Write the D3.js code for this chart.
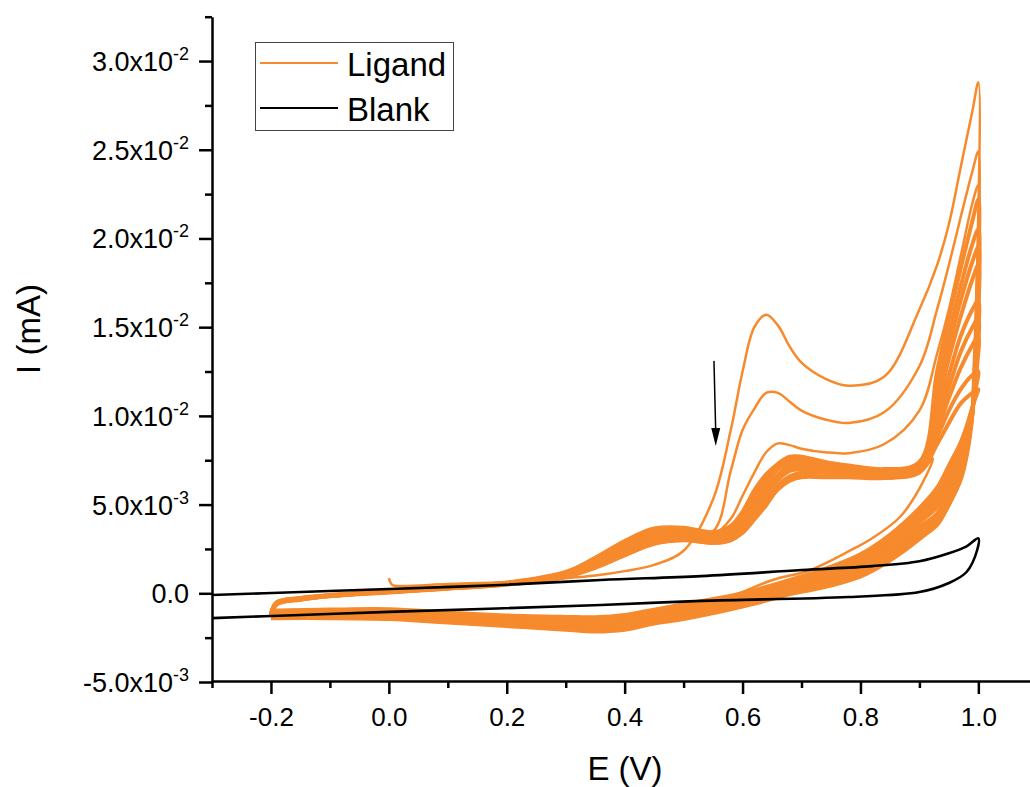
<!DOCTYPE html>
<html>
<head>
<meta charset="utf-8">
<script src="https://cdn.jsdelivr.net/npm/d3@7"></script>
<style>
  body { margin: 0; background: #fff; }
  text { font-family: "Liberation Sans", Arial, sans-serif; }
</style>
</head>
<body>
<script>
// currents are written in units of 10^-3 mA, potentials in V

// shared potential grids for forward (anodic) and reverse (cathodic) sweeps
const potentialFwd = [-0.2, -0.19, -0.15, -0.1, 0.0, 0.1, 0.2, 0.3, 0.35, 0.4, 0.45, 0.5, 0.55, 0.58, 0.6, 0.62, 0.64, 0.66, 0.68, 0.7, 0.74, 0.78, 0.84, 0.9, 0.93, 0.95, 0.97, 0.99, 1.0];
const potentialRev = [1.0, 0.997, 0.993, 0.99, 0.98, 0.97, 0.95, 0.93, 0.9, 0.85, 0.8, 0.75, 0.7, 0.6, 0.5, 0.45, 0.4, 0.35, 0.3, 0.2, 0.1, 0.0, -0.1, -0.2];

// first scan starts at open circuit (0 V)
const firstScanE = [0.0, 0.006, 0.02, 0.1, 0.2, 0.3, 0.35, 0.4, 0.45, 0.5, 0.55, 0.58, 0.6, 0.62, 0.64, 0.66, 0.68, 0.7, 0.74, 0.78, 0.84, 0.9, 0.93, 0.95, 0.97, 0.99, 1.0];
const firstScanI = [0.86, 0.47, 0.41, 0.52, 0.64, 0.85, 1.0, 1.25, 1.6, 2.4, 5.3, 9.2, 12.5, 15.0, 15.7, 15.1, 13.9, 13.0, 12.1, 11.7, 12.2, 16.0, 18.5, 20.8, 24.0, 27.2, 28.8];
const cycle1Rev = [28.8, 17, 12.5, 10.2, 7.8, 6.4, 4.9, 3.9, 3.0, 1.8, 0.9, 0.4, 0.05, -0.45, -1.05, -1.45, -1.85, -2.0, -1.9, -1.6, -1.35, -1.2, -1.15, -1.2];

const cycle2Fwd = [-1.2, -0.55, -0.3, -0.15, 0.1, 0.3, 0.55, 1.1, 1.8, 2.6, 3.2, 3.3, 3.5, 6.9, 9.2, 10.4, 11.3, 11.3, 10.8, 10.3, 9.8, 9.6, 10.2, 12.8, 16.0, 18.5, 21.2, 23.8, 24.9];
const cycle2Rev = [24.9, 16.5, 12.3, 10.3, 8.0, 6.6, 5.1, 4.1, 3.2, 2.0, 1.1, 0.55, 0.15, -0.4, -1.0, -1.4, -1.8, -1.95, -1.85, -1.55, -1.3, -1.18, -1.12, -1.18];

const cycle3Fwd = [-1.18, -0.52, -0.28, -0.13, 0.12, 0.32, 0.57, 1.15, 1.85, 2.65, 3.25, 3.35, 3.3, 4.2, 5.5, 6.8, 7.95, 8.45, 8.35, 8.15, 7.95, 7.9, 8.4, 10.3, 13.5, 16.0, 19.0, 22.0, 23.0];
const cycle3Rev = [23.0, 16, 12.0, 10.2, 8.1, 6.8, 5.3, 4.3, 3.4, 2.2, 1.3, 0.7, 0.25, -0.35, -0.95, -1.35, -1.75, -1.9, -1.8, -1.5, -1.28, -1.15, -1.1, -1.15];

// later cycles that pile up into the dense band
const bandFwd1 = [-1.15, -0.5, -0.26, -0.1, 0.14, 0.35, 0.6, 1.2, 2.0, 2.95, 3.65, 3.7, 3.45, 3.8, 4.6, 5.8, 6.7, 7.3, 7.7, 7.7, 7.4, 7.2, 7.0, 7.4, 12.5, 15.5, 18.3, 21.0, 22.2];
const bandFwd2 = [-1.18, -0.52, -0.28, -0.12, 0.12, 0.33, 0.58, 1.15, 1.9, 2.8, 3.5, 3.55, 3.35, 3.65, 4.4, 5.6, 6.5, 7.2, 7.6, 7.6, 7.3, 7.1, 6.95, 7.3, 11.6, 14.6, 17.3, 19.7, 20.5];
const bandFwd3 = [-1.2, -0.54, -0.3, -0.13, 0.1, 0.31, 0.56, 1.1, 1.8, 2.65, 3.35, 3.4, 3.25, 3.5, 4.2, 5.3, 6.2, 7.0, 7.4, 7.5, 7.2, 7.0, 6.9, 7.2, 10.5, 13.2, 15.6, 17.7, 18.5];
const bandFwd4 = [-1.22, -0.56, -0.31, -0.14, 0.09, 0.3, 0.54, 1.05, 1.7, 2.5, 3.2, 3.3, 3.15, 3.35, 4.0, 5.0, 5.9, 6.7, 7.2, 7.3, 7.1, 6.9, 6.8, 7.1, 10.0, 12.3, 14.5, 16.0, 16.5];
const bandFwd5 = [-1.25, -0.58, -0.33, -0.15, 0.08, 0.28, 0.52, 1.0, 1.6, 2.4, 3.05, 3.2, 3.05, 3.2, 3.8, 4.7, 5.6, 6.4, 6.9, 7.0, 6.9, 6.8, 6.7, 7.0, 9.2, 11.0, 12.7, 14.0, 14.5];
const bandFwd6 = [-1.28, -0.6, -0.35, -0.16, 0.06, 0.27, 0.5, 0.95, 1.5, 2.25, 2.9, 3.1, 2.95, 3.1, 3.6, 4.4, 5.3, 6.1, 6.6, 6.8, 6.8, 6.7, 6.6, 6.9, 8.8, 10.3, 11.5, 12.3, 12.5];
const bandFwd7 = [-1.3, -0.62, -0.36, -0.17, 0.05, 0.26, 0.49, 0.92, 1.45, 2.15, 2.8, 3.0, 2.85, 3.0, 3.45, 4.2, 5.0, 5.9, 6.4, 6.6, 6.6, 6.6, 6.5, 6.8, 8.4, 9.6, 10.7, 11.3, 11.5];
const bandFwd8 = [-1.2, -0.53, -0.29, -0.12, 0.11, 0.32, 0.57, 1.12, 1.85, 2.72, 3.42, 3.48, 3.3, 3.58, 4.3, 5.45, 6.35, 7.1, 7.5, 7.55, 7.25, 7.05, 6.92, 7.25, 11.0, 13.9, 16.5, 18.7, 19.5];
const bandFwd9 = [-1.24, -0.57, -0.32, -0.14, 0.085, 0.29, 0.53, 1.02, 1.65, 2.45, 3.12, 3.25, 3.1, 3.28, 3.9, 4.85, 5.75, 6.55, 7.05, 7.15, 7.0, 6.85, 6.75, 7.05, 9.6, 11.6, 13.6, 15.0, 15.5];

const bandRev1 = [22.2, 16, 12.5, 10.1, 7.7, 6.4, 5.0, 3.85, 3.1, 1.9, 1.0, 0.5, 0.12, -0.75, -1.45, -1.7, -2.05, -2.15, -2.05, -1.85, -1.65, -1.45, -1.4, -1.4];
const bandRev2 = [20.5, 15, 12.0, 10.2, 7.9, 6.6, 5.25, 4.1, 3.35, 2.1, 1.15, 0.65, 0.25, -0.6, -1.3, -1.6, -1.9, -2.0, -1.9, -1.72, -1.5, -1.32, -1.28, -1.3];
const bandRev3 = [18.5, 14, 11.5, 10.2, 8.2, 7.0, 5.65, 4.5, 3.75, 2.45, 1.45, 0.9, 0.48, -0.45, -1.15, -1.45, -1.75, -1.85, -1.78, -1.6, -1.4, -1.22, -1.18, -1.2];
const bandRev4 = [16.5, 13.5, 11.4, 10.3, 8.5, 7.3, 6.0, 4.85, 4.0, 2.65, 1.6, 1.02, 0.58, -0.3, -1.0, -1.3, -1.6, -1.7, -1.65, -1.5, -1.3, -1.12, -1.1, -1.12];
const bandRev5 = [14.5, 12.5, 11.2, 10.4, 8.9, 7.9, 6.6, 5.4, 4.4, 3.0, 1.9, 1.25, 0.78, -0.15, -0.85, -1.15, -1.45, -1.55, -1.52, -1.4, -1.2, -1.02, -1.02, -1.05];
const bandRev6 = [12.5, 11.8, 11.0, 10.5, 9.2, 8.2, 6.9, 5.7, 4.6, 3.15, 2.05, 1.38, 0.86, -0.05, -0.7, -1.0, -1.3, -1.42, -1.4, -1.3, -1.12, -0.95, -0.95, -1.0];
const bandRev7 = [11.5, 11.2, 10.8, 10.5, 9.4, 8.5, 7.2, 5.95, 4.8, 3.3, 2.2, 1.5, 0.95, 0.0, -0.62, -0.92, -1.22, -1.35, -1.33, -1.25, -1.08, -0.9, -0.92, -0.98];
const bandRev8 = [19.5, 14.5, 11.8, 10.2, 8.05, 6.8, 5.45, 4.3, 3.55, 2.3, 1.3, 0.78, 0.38, -0.52, -1.22, -1.52, -1.82, -1.92, -1.84, -1.66, -1.45, -1.27, -1.23, -1.25];
const bandRev9 = [15.5, 13.0, 11.3, 10.35, 8.7, 7.6, 6.3, 5.1, 4.2, 2.85, 1.75, 1.15, 0.68, -0.22, -0.92, -1.22, -1.52, -1.62, -1.58, -1.45, -1.25, -1.07, -1.06, -1.08];

// last scan, switched back at 0.923 V
const lastScanE = [-0.2, -0.19, -0.15, -0.1, 0.0, 0.1, 0.2, 0.3, 0.35, 0.4, 0.45, 0.5, 0.55, 0.58, 0.6, 0.62, 0.64, 0.66, 0.68, 0.7, 0.74, 0.78, 0.84, 0.9, 0.923, 0.9, 0.867, 0.82, 0.782, 0.714, 0.651, 0.573, 0.5, 0.45, 0.4, 0.35, 0.3, 0.2, 0.1, 0.0, -0.1, -0.2];
const lastScanI = [-1.0, -0.62, -0.37, -0.18, 0.04, 0.25, 0.48, 0.9, 1.4, 2.1, 2.75, 2.95, 2.8, 2.95, 3.35, 4.1, 4.9, 5.8, 6.3, 6.5, 6.5, 6.5, 6.45, 6.8, 7.6, 5.9, 4.3, 3.1, 2.4, 1.3, 0.75, -0.26, -0.85, -1.15, -1.4, -1.5, -1.45, -1.35, -1.15, -0.98, -1.0, -1.05];

// blank electrolyte
const blankE = [-0.3, -0.15, 0.0, 0.19, 0.36, 0.53, 0.7, 0.82, 0.9, 0.95, 0.98, 1.0, 0.998, 0.98, 0.95, 0.9, 0.78, 0.53, 0.36, 0.0, -0.15, -0.3];
const blankI = [-0.1, 0.07, 0.24, 0.47, 0.75, 0.97, 1.31, 1.53, 1.81, 2.26, 2.65, 3.1, 2.44, 1.2, 0.58, 0.07, -0.21, -0.43, -0.66, -1.05, -1.22, -1.4];

// axis ticks
const xMajor = [-0.2, 0.0, 0.2, 0.4, 0.6, 0.8, 1.0];
const xMinor = [-0.3, -0.1, 0.1, 0.3, 0.5, 0.7, 0.9];
const yMajor = [-0.005, 0, 0.005, 0.01, 0.015, 0.02, 0.025, 0.03];
const yMantissa = ["-5.0", "0.0", "5.0", "1.0", "1.5", "2.0", "2.5", "3.0"];
const yExponent = ["-3", "", "-3", "-2", "-2", "-2", "-2", "-2"];
const yMinor = [-0.0025, 0.0025, 0.0075, 0.0125, 0.0175, 0.0225, 0.0275, 0.0325];

const legendNames = ["Ligand", "Blank"];
const arrowE = [0.5515, 0.5545];
const arrowI = [13.1, 8.3];

const orange = "#f68a2c";
const width = 1030;
const height = 787;

const svg = d3.select("body").append("svg")
    .attr("width", width)
    .attr("height", height);

const x = d3.scaleLinear().domain([-0.3, 1.1]).range([212, 1037.3]);
const y = d3.scaleLinear().domain([-0.005, 0.0325]).range([682, 16.7]);

function toPoints(es, is) {
    return es.map((e, i) => [e, is[i] * 1e-3]);
}

function cycle(fwdE, fwdI, revI) {
    return toPoints(fwdE, fwdI).concat(toPoints(potentialRev, revI).slice(1));
}

const line = d3.line()
    .x(d => x(d[0]))
    .y(d => y(d[1]))
    .curve(d3.curveCatmullRom.alpha(0.5));

// first three scans are thin single lines, the rest form the band
const singleScans = [
    cycle(firstScanE, firstScanI, cycle1Rev),
    cycle(potentialFwd, cycle2Fwd, cycle2Rev),
    cycle(potentialFwd, cycle3Fwd, cycle3Rev)
];
const bandScans = [
    cycle(potentialFwd, bandFwd1, bandRev1),
    cycle(potentialFwd, bandFwd2, bandRev2),
    cycle(potentialFwd, bandFwd8, bandRev8),
    cycle(potentialFwd, bandFwd3, bandRev3),
    cycle(potentialFwd, bandFwd4, bandRev4),
    cycle(potentialFwd, bandFwd9, bandRev9),
    cycle(potentialFwd, bandFwd5, bandRev5),
    cycle(potentialFwd, bandFwd6, bandRev6),
    cycle(potentialFwd, bandFwd7, bandRev7)
];

svg.append("g")
    .selectAll("path")
    .data(bandScans)
    .join("path")
    .attr("fill", "none")
    .attr("stroke", orange)
    .attr("stroke-width", 4)
    .attr("stroke-linejoin", "round")
    .attr("d", line);

svg.append("g")
    .selectAll("path")
    .data(singleScans.concat([toPoints(lastScanE, lastScanI)]))
    .join("path")
    .attr("fill", "none")
    .attr("stroke", orange)
    .attr("stroke-width", 2.5)
    .attr("stroke-linejoin", "round")
    .attr("d", line);

svg.append("path")
    .datum(toPoints(blankE, blankI))
    .attr("fill", "none")
    .attr("stroke", "#000")
    .attr("stroke-width", 2.6)
    .attr("d", line);

// arrow
svg.append("line")
    .attr("x1", x(arrowE[0]))
    .attr("y1", y(arrowI[0] * 1e-3))
    .attr("x2", x(arrowE[1]))
    .attr("y2", y(arrowI[1] * 1e-3) - 14)
    .attr("stroke", "#000")
    .attr("stroke-width", 1.5);
const tipX = x(arrowE[1]);
const tipY = y(arrowI[1] * 1e-3);
svg.append("path")
    .attr("d", "M" + tipX + "," + tipY + "L" + (tipX - 4.5) + "," + (tipY - 18) + "L" + (tipX + 4.5) + "," + (tipY - 18) + "Z")
    .attr("fill", "#000");

// x axis
const xAxis = svg.append("g")
    .attr("transform", "translate(0,681)")
    .call(d3.axisBottom(x).tickValues(xMajor).tickSize(13).tickSizeOuter(0).tickFormat(d => d.toFixed(1)));
svg.append("g")
    .attr("transform", "translate(0,681)")
    .call(d3.axisBottom(x).tickValues(xMinor).tickSize(7).tickSizeOuter(0).tickFormat(""))
    .select(".domain").remove();
xAxis.selectAll("text")
    .attr("y", 27)
    .attr("font-size", "26px")
    .attr("font-family", "Liberation Sans, Arial")
    .attr("fill", "#000");

// y axis
svg.append("g")
    .attr("transform", "translate(212,0)")
    .call(d3.axisLeft(y).tickValues(yMajor).tickSize(13).tickSizeOuter(0).tickFormat(""));
svg.append("g")
    .attr("transform", "translate(212,0)")
    .call(d3.axisLeft(y).tickValues(yMinor).tickSize(7).tickSizeOuter(0).tickFormat(""))
    .select(".domain").remove();

svg.selectAll(".domain, .tick line")
    .attr("stroke", "#000")
    .attr("stroke-width", 2.5);

const yLabels = svg.append("g")
    .selectAll("text")
    .data(yMajor)
    .join("text")
    .attr("x", 189)
    .attr("y", d => y(d) + 10)
    .attr("text-anchor", "end")
    .attr("font-size", "27px");
yLabels.append("tspan").text((d, i) => yMantissa[i] + (yExponent[i] ? "x10" : ""));
yLabels.append("tspan")
    .attr("dy", -11)
    .attr("font-size", "18px")
    .text((d, i) => yExponent[i]);

// axis titles
svg.append("text")
    .attr("x", 625)
    .attr("y", 780)
    .attr("text-anchor", "middle")
    .attr("font-size", "33px")
    .text("E (V)");

svg.append("text")
    .attr("transform", "translate(40,329) rotate(-90)")
    .attr("text-anchor", "middle")
    .attr("font-size", "33px")
    .text("I (mA)");

// legend
const legend = svg.append("g");
legend.append("rect")
    .attr("x", 255.5)
    .attr("y", 42.5)
    .attr("width", 198)
    .attr("height", 88)
    .attr("fill", "#fff")
    .attr("stroke", "#444")
    .attr("stroke-width", 1);
const legendColors = [orange, "#000"];
legendNames.forEach((name, i) => {
    legend.append("line")
        .attr("x1", 260)
        .attr("x2", 338)
        .attr("y1", 63 + i * 45)
        .attr("y2", 63 + i * 45)
        .attr("stroke", legendColors[i])
        .attr("stroke-width", 1.8);
    legend.append("text")
        .attr("x", 347)
        .attr("y", 76 + i * 45)
        .attr("font-size", "33px")
        .text(name);
});
</script>
</body>
</html>
